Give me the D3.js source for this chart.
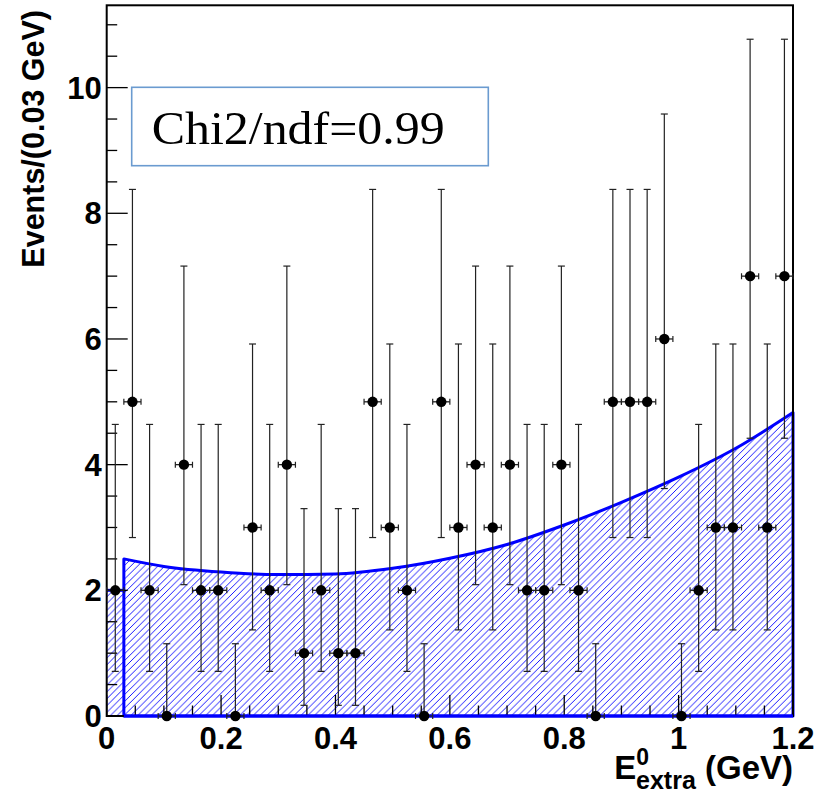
<!DOCTYPE html>
<html>
<head>
<meta charset="utf-8">
<script src="https://cdn.jsdelivr.net/npm/d3@7"></script>
<style>
  body { margin: 0; background: #fff; }
  svg { display: block; }
  .lbl { font-family: "Liberation Sans", Arial, Helvetica, sans-serif; font-weight: bold; }
</style>
</head>
<body>
<div id="chart"></div>
<script>
// bin centres (GeV), 0.03 GeV bins
const binCenters = [0.015, 0.045, 0.075, 0.105, 0.135, 0.165, 0.195, 0.225, 0.255, 0.285,
                    0.315, 0.345, 0.375, 0.405, 0.435, 0.465, 0.495, 0.525, 0.555, 0.585,
                    0.615, 0.645, 0.675, 0.705, 0.735, 0.765, 0.795, 0.825, 0.855, 0.885,
                    0.915, 0.945, 0.975, 1.005, 1.035, 1.065, 1.095, 1.125, 1.155, 1.185];
const binWidth = 0.03;
const counts = [2, 5, 2, 0, 4, 2, 2, 0, 3, 2,
                4, 1, 2, 1, 1, 5, 3, 2, 0, 5,
                3, 4, 3, 4, 2, 2, 4, 2, 0, 5,
                5, 5, 6, 0, 2, 3, 3, 7, 3, 7];
// error bar ends indexed by count
const errLow  = [0, 0.17, 0.71, 1.37, 2.09, 2.84, 3.62, 4.42];
const errHigh = [1.15, 3.30, 4.64, 5.92, 7.16, 8.38, 9.58, 10.77];

// background fit shape
const fitX = [0.03, 0.1, 0.2, 0.3, 0.4, 0.5, 0.6, 0.7, 0.8, 0.9, 1.0, 1.1, 1.2];
const fitY = [2.50, 2.38, 2.29, 2.25, 2.26, 2.35, 2.51, 2.73, 3.04, 3.40, 3.80, 4.26, 4.83];
// first (excluded) bin of the fill
const stepX = [0, 0.03];
const stepY = 2;

const xTicks = [0, 0.2, 0.4, 0.6, 0.8, 1, 1.2];
const xTickLabels = ["0", "0.2", "0.4", "0.6", "0.8", "1", "1.2"];
const yTicks = [0, 2, 4, 6, 8, 10];
const chiText = "Chi2/ndf=0.99";

class FitPlot {
  constructor(_config) {
    this.config = {
      parentElement: _config.parentElement,
      containerWidth: _config.containerWidth || 822,
      containerHeight: _config.containerHeight || 793,
      margin: _config.margin || {top: 5.3, right: 29, bottom: 77, left: 106.7}
    };
    this.initVis();
  }

  initVis() {
    let vis = this;
    vis.width = vis.config.containerWidth - vis.config.margin.left - vis.config.margin.right;
    vis.height = vis.config.containerHeight - vis.config.margin.top - vis.config.margin.bottom;

    vis.root = d3.select(vis.config.parentElement).append("svg")
      .attr("width", vis.config.containerWidth)
      .attr("height", vis.config.containerHeight);

    // hatch for the fit area
    const s = 6.8;
    vis.root.append("defs").append("pattern")
      .attr("id", "hatch")
      .attr("patternUnits", "userSpaceOnUse")
      .attr("width", s).attr("height", s)
      .append("path")
        .attr("d", `M0,${s} L${s},0 M${-s / 2},${s / 2} L${s / 2},${-s / 2} M${s / 2},${s * 1.5} L${s * 1.5},${s / 2}`)
        .attr("stroke", "#0000ff")
        .attr("stroke-width", 0.9);

    vis.svg = vis.root.append("g")
      .attr("transform", `translate(${vis.config.margin.left},${vis.config.margin.top})`);

    vis.x = d3.scaleLinear().domain([0, 1.2]).range([0, vis.width]);
    vis.y = d3.scaleLinear().domain([0, 11.31]).range([vis.height, 0]);

    vis.renderVis();
  }

  renderVis() {
    let vis = this;
    const x = vis.x, y = vis.y;

    // fill: step for the first bin + curve
    const pts = fitX.map((d, i) => [d, fitY[i]]);
    const curve = d3.line().x(d => x(d[0])).y(d => y(d[1])).curve(d3.curveMonotoneX);

    vis.svg.append("path")
      .attr("d", `M${x(stepX[0])},${y(0)} L${x(stepX[0])},${y(stepY)} L${x(stepX[1])},${y(stepY)} L${x(stepX[1])},${y(0)} Z`)
      .attr("fill", "url(#hatch)");
    vis.svg.append("path")
      .attr("d", `M${x(fitX[0])},${y(0)} L` + curve(pts).slice(1) + ` L${x(fitX[fitX.length - 1])},${y(0)} Z`)
      .attr("fill", "url(#hatch)")
      .attr("stroke", "#0000ff")
      .attr("stroke-width", 3)
      .attr("stroke-linejoin", "round");
    vis.svg.append("line")
      .attr("x1", x(stepX[0])).attr("x2", x(stepX[1]))
      .attr("y1", y(stepY)).attr("y2", y(stepY))
      .attr("stroke", "#0000ff").attr("stroke-width", 3);

    // ticks (drawn inside the frame)
    const minorX = d3.range(0, 1.2001, 0.05);
    const minorY = d3.range(0, 11.31, 0.5);
    const tickG = vis.svg.append("g").attr("stroke", "#000").attr("stroke-width", 1.3);
    tickG.selectAll(".xt").data(minorX).join("line")
      .attr("x1", d => x(d)).attr("x2", d => x(d))
      .attr("y1", vis.height)
      .attr("y2", d => vis.height - (Math.abs(d * 5 - Math.round(d * 5)) < 1e-6 ? 21 : 10.5));
    tickG.selectAll(".yt").data(minorY).join("line")
      .attr("y1", d => y(d)).attr("y2", d => y(d))
      .attr("x1", 0)
      .attr("x2", d => (Math.abs(d / 2 - Math.round(d / 2)) < 1e-6 ? 21 : 10.5));

    // frame
    vis.svg.append("rect")
      .attr("x", 0).attr("y", 0)
      .attr("width", vis.width).attr("height", vis.height)
      .attr("fill", "none").attr("stroke", "#000").attr("stroke-width", 2);
    // blue fit baseline on top of the axis
    vis.svg.append("line")
      .attr("x1", x(fitX[0])).attr("x2", vis.width)
      .attr("y1", y(0)).attr("y2", y(0))
      .attr("stroke", "#0000ff").attr("stroke-width", 3);

    // tick labels
    vis.svg.selectAll(".xl").data(xTicks).join("text")
      .attr("class", "lbl")
      .attr("x", d => x(d))
      .attr("y", vis.height + 33)
      .attr("text-anchor", "middle")
      .attr("font-size", 31)
      .text((d, i) => xTickLabels[i]);
    vis.svg.selectAll(".yl").data(yTicks).join("text")
      .attr("class", "lbl")
      .attr("x", -5)
      .attr("y", d => y(d) + 11)
      .attr("text-anchor", "end")
      .attr("font-size", 31)
      .text(d => d);

    // axis titles
    vis.root.append("text")
      .attr("class", "lbl")
      .attr("transform", "translate(43.5,10) rotate(-90)")
      .attr("text-anchor", "end")
      .attr("font-size", 30.5)
      .text("Events/(0.03 GeV)");

    const xt = vis.root.append("text")
      .attr("class", "lbl")
      .attr("x", 793).attr("y", 779)
      .attr("text-anchor", "end")
      .attr("font-size", 33);
    xt.append("tspan").text("E");
    xt.append("tspan").attr("font-size", 23).attr("dy", -14).text("0");
    xt.append("tspan").attr("font-size", 25).attr("dx", -13).attr("dy", 24).text("extra");
    xt.append("tspan").attr("dy", -10).text(" (GeV)");

    // data points with error bars
    const dataG = vis.svg.append("g");
    const pts2 = counts.map((c, i) => ({x: binCenters[i], n: c}));
    const eb = dataG.selectAll("g.pt").data(pts2).join("g").attr("class", "pt");
    eb.append("line")
      .attr("x1", d => x(d.x)).attr("x2", d => x(d.x))
      .attr("y1", d => y(errLow[d.n])).attr("y2", d => y(errHigh[d.n]))
      .attr("stroke", "#222").attr("stroke-width", 1.2);
    eb.append("line")
      .attr("x1", d => x(d.x) - 3.5).attr("x2", d => x(d.x) + 3.5)
      .attr("y1", d => y(errHigh[d.n])).attr("y2", d => y(errHigh[d.n]))
      .attr("stroke", "#222").attr("stroke-width", 1.2);
    eb.filter(d => d.n > 0).append("line")
      .attr("x1", d => x(d.x) - 3.5).attr("x2", d => x(d.x) + 3.5)
      .attr("y1", d => y(errLow[d.n])).attr("y2", d => y(errLow[d.n]))
      .attr("stroke", "#222").attr("stroke-width", 1.2);
    eb.append("line")
      .attr("x1", d => x(d.x - binWidth / 2)).attr("x2", d => x(d.x + binWidth / 2))
      .attr("y1", d => y(d.n)).attr("y2", d => y(d.n))
      .attr("stroke", "#222").attr("stroke-width", 1.3);
    eb.append("path")
      .attr("d", d => {
        const l = x(d.x - binWidth / 2), r = x(d.x + binWidth / 2), yy = y(d.n);
        return `M${l},${yy - 3} V${yy + 3} M${r},${yy - 3} V${yy + 3}`;
      })
      .attr("stroke", "#222").attr("stroke-width", 1.2);
    eb.append("circle")
      .attr("cx", d => x(d.x)).attr("cy", d => y(d.n))
      .attr("r", 5.2)
      .attr("fill", "#000");

    // chi2 box
    vis.root.append("rect")
      .attr("x", 131.7).attr("y", 87.3)
      .attr("width", 356.6).attr("height", 78.4)
      .attr("fill", "#fff")
      .attr("stroke", "#6b9bd0").attr("stroke-width", 1.6);
    vis.root.append("text")
      .attr("x", 151.7).attr("y", 144)
      .attr("font-family", "'Palatino Linotype', 'URW Palladio L', 'Liberation Serif', serif")
      .attr("font-size", 47)
      .attr("textLength", 293)
      .attr("lengthAdjust", "spacingAndGlyphs")
      .attr("fill", "#000")
      .text(chiText);
  }
}

new FitPlot({parentElement: "#chart"});
</script>
</body>
</html>
